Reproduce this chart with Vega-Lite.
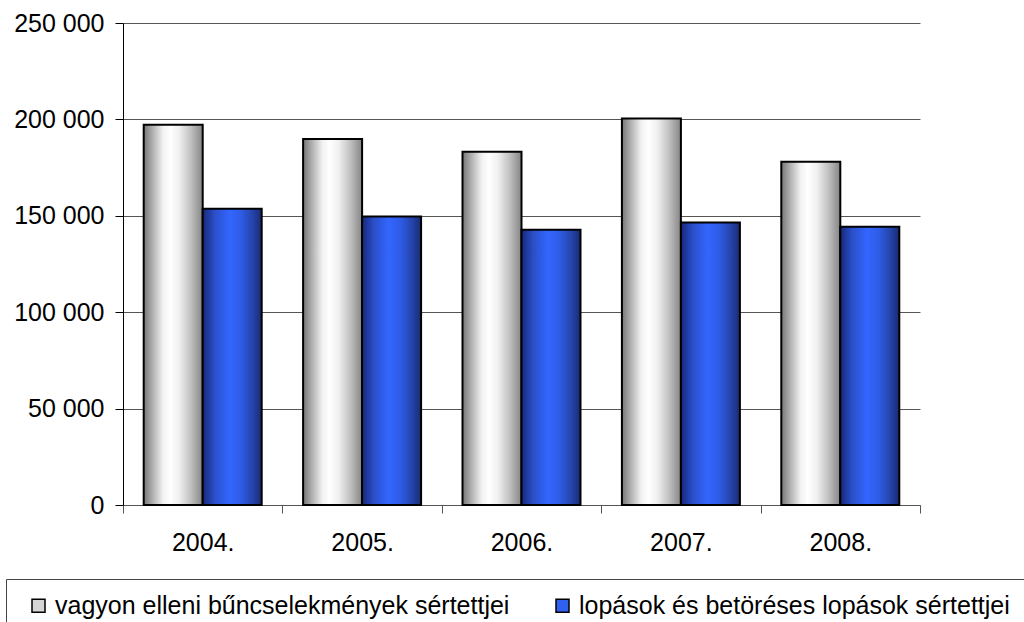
{
  "$schema": "https://vega.github.io/schema/vega-lite/v6.json",
  "width": 797,
  "height": 482,
  "autosize": {"type": "none"},
  "padding": {"left": 123, "top": 23, "right": 104, "bottom": 117},
  "background": "white",
  "config": {
    "view": {"stroke": null},
    "font": "Liberation Sans",
    "locale": {"number": {"decimal": ",", "thousands": " ", "grouping": [3], "currency": ["", ""]}}
  },
  "data": {
    "values": [
      {"year": "2004.", "series": "vagyon elleni bűncselekmények sértettjei", "value": 197200},
      {"year": "2004.", "series": "lopások és betöréses lopások sértettjei", "value": 153600},
      {"year": "2005.", "series": "vagyon elleni bűncselekmények sértettjei", "value": 189800},
      {"year": "2005.", "series": "lopások és betöréses lopások sértettjei", "value": 149700},
      {"year": "2006.", "series": "vagyon elleni bűncselekmények sértettjei", "value": 183200},
      {"year": "2006.", "series": "lopások és betöréses lopások sértettjei", "value": 142700},
      {"year": "2007.", "series": "vagyon elleni bűncselekmények sértettjei", "value": 200500},
      {"year": "2007.", "series": "lopások és betöréses lopások sértettjei", "value": 146500},
      {"year": "2008.", "series": "vagyon elleni bűncselekmények sértettjei", "value": 178000},
      {"year": "2008.", "series": "lopások és betöréses lopások sértettjei", "value": 144300}
    ]
  },
  "encoding": {
    "x": {
      "field": "year",
      "type": "nominal",
      "scale": {"paddingInner": 0, "paddingOuter": 0},
      "axis": {
        "title": null,
        "labelAngle": 0,
        "tickBand": "extent",
        "tickSize": 8,
        "labelPadding": 17,
        "labelFontSize": 25,
        "labelColor": "black",
        "domainColor": "#555555",
        "tickColor": "#555555",
        "grid": false
      }
    },
    "xOffset": {
      "field": "series",
      "type": "nominal",
      "sort": ["vagyon elleni bűncselekmények sértettjei", "lopások és betöréses lopások sértettjei"],
      "scale": {"paddingInner": 0, "paddingOuter": 0.351}
    },
    "y": {
      "field": "value",
      "type": "quantitative",
      "scale": {"domain": [0, 250000], "nice": false},
      "axis": {
        "title": null,
        "values": [0, 50000, 100000, 150000, 200000, 250000],
        "format": ",d",
        "tickSize": 8,
        "labelPadding": 11,
        "labelFontSize": 25,
        "labelColor": "black",
        "domainColor": "black",
        "tickColor": "black",
        "grid": true,
        "gridColor": "#555555",
        "gridOpacity": 1
      }
    }
  },
  "layer": [
    {
      "mark": {"type": "bar"},
      "encoding": {
        "color": {
          "field": "series",
          "type": "nominal",
          "scale": {
            "domain": ["vagyon elleni bűncselekmények sértettjei", "lopások és betöréses lopások sértettjei"],
            "range": ["#d6d6d6", "#3060f0"]
          },
          "legend": {
            "orient": "none",
            "legendX": -117,
            "legendY": 556,
            "direction": "horizontal",
            "columns": 2,
            "title": null,
            "strokeColor": "#444444",
            "padding": 14,
            "symbolType": "square",
            "symbolSize": 169,
            "symbolStrokeColor": "black",
            "symbolStrokeWidth": 1.5,
            "symbolOpacity": 1,
            "symbolOffset": 6,
            "labelFontSize": 25,
            "labelColor": "black",
            "labelLimit": 700,
            "labelOffset": 4,
            "columnPadding": 34
          }
        }
      }
    },
    {
      "mark": {"type": "bar", "stroke": "black", "strokeWidth": 2},
      "encoding": {
        "fill": {
          "condition": {
            "test": "datum.series === 'vagyon elleni bűncselekmények sértettjei'",
            "value": {
              "gradient": "linear", "x1": 0, "y1": 0, "x2": 1, "y2": 0,
              "stops": [
                {"offset": 0, "color": "#767676"},
                {"offset": 0.15, "color": "#b0b0b0"},
                {"offset": 0.33, "color": "#f2f2f2"},
                {"offset": 0.45, "color": "#ffffff"},
                {"offset": 0.6, "color": "#f0f0f0"},
                {"offset": 0.8, "color": "#c0c0c0"},
                {"offset": 1, "color": "#858585"}
              ]
            }
          },
          "value": {
            "gradient": "linear", "x1": 0, "y1": 0, "x2": 1, "y2": 0,
            "stops": [
              {"offset": 0, "color": "#17287a"},
              {"offset": 0.2, "color": "#2a4fc8"},
              {"offset": 0.45, "color": "#3366ff"},
              {"offset": 0.65, "color": "#2f5ce6"},
              {"offset": 0.85, "color": "#2444aa"},
              {"offset": 1, "color": "#1a2a70"}
            ]
          }
        }
      }
    }
  ]
}
